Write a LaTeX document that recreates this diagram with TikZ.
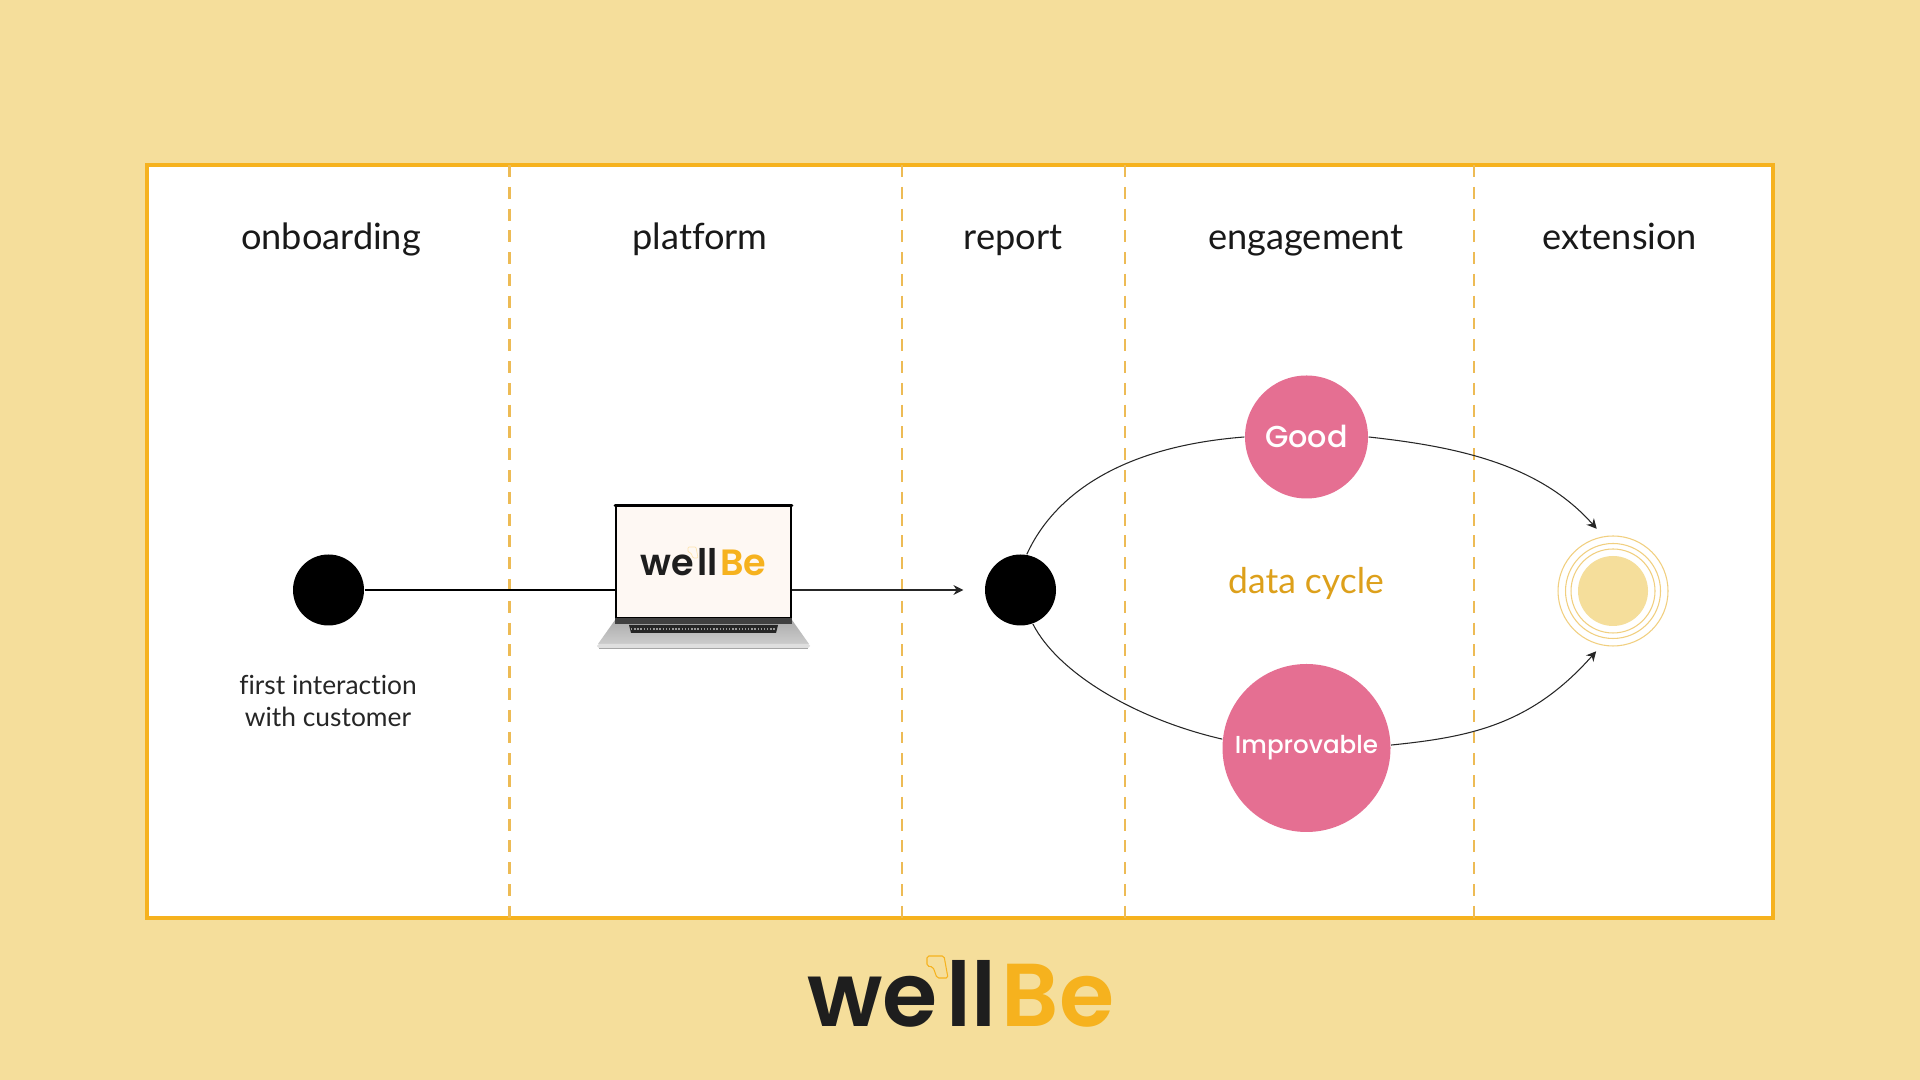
\documentclass[tikz,border=0pt]{standalone}
\usepackage{fontspec}
\setmainfont{Lato}[Ligatures=NoCommon]
\newfontfamily\logofont{Poppins SemiBold}
\newfontfamily\rosefont{Poppins Medium}
\usetikzlibrary{arrows.meta}
\definecolor{sandbg}{HTML}{F5DE9B}
\definecolor{framegold}{HTML}{F6B21E}
\definecolor{dashgold}{HTML}{EDBB55}
\definecolor{ringgold}{HTML}{F1CF7F}
\definecolor{rosefill}{HTML}{E56F92}
\definecolor{logoink}{HTML}{1E1E1E}
\definecolor{screenfill}{HTML}{FEF8F3}
\newcommand{\wellbeword}[1]{{\logofont\fontsize{#1}{#1}\selectfont\color{logoink}we\hspace{0.1em}ll\hspace{0.06em}\color{framegold}Be}}
\tikzset{
  stagetitle/.style={font=\fontsize{10.3}{12}\selectfont,text=black!90,anchor=base},
  stagedash/.style={dashgold,line width=0.6pt,dash pattern=on 3.4pt off 2.8pt},
  bigdot/.style={circle,fill=black,minimum size=0.71cm,inner sep=0pt},
  rosedot/.style={circle,fill=rosefill,text=white,inner sep=0pt},
  ringdot/.style={circle,draw=ringgold,line width=0.3pt,inner sep=0pt},
  flowline/.style={line width=0.3pt,black!85},
  flowtip/.style={-{Stealth[length=2.8pt,width=2.8pt]}}
}
\begin{document}
\begin{tikzpicture}
%background and frame
\fill[sandbg] (0,0) rectangle (19.2,10.8);
\draw[framegold,fill=white,line width=1.1pt] (1.47,1.62) rectangle (17.73,9.15);
%stage separators
\draw[stagedash] (5.095,9.15)--(5.095,1.62);
\draw[stagedash] (9.02,9.15)--(9.02,1.62);
\draw[stagedash] (11.25,9.15)--(11.25,1.62);
\draw[stagedash] (14.74,9.15)--(14.74,1.62);
%titles
\node[stagetitle] (onboarding) at (3.31,8.30){onboarding};
\node[stagetitle] (platform) at (7.00,8.30){platform};
\node[stagetitle] (report) at (10.13,8.30){report};
\node[stagetitle] (engagement) at (13.06,8.30){engagement};
\node[stagetitle] (extension) at (16.20,8.30){extension};
%laptop
\shade[top color=gray!65,bottom color=gray!40] (6.15,4.60)--(7.92,4.60)--(8.09,4.36)--(5.98,4.36)--cycle;
\fill[black!85] (6.29,4.55)--(7.78,4.55)--(7.76,4.47)--(6.31,4.47)--cycle;
\draw[white!60!black,line width=0.4pt,dash pattern=on 0.4pt off 0.5pt] (6.31,4.51)--(7.76,4.51);
\fill[gray!25,rounded corners=0.5pt] (5.97,4.36) rectangle (8.10,4.32);
\fill[gray!70] (5.99,4.32) rectangle (8.08,4.31);
\node[draw=black,fill=screenfill,line width=0.5pt,minimum width=1.75cm,minimum height=1.12cm,inner sep=0pt] (screen) at (7.035,5.18){\wellbeword{10.4}};
\draw[black,line width=0.9pt,line cap=round] (screen.north west)--(screen.north east);
\fill[black!75] ([yshift=0.01cm]screen.south west) rectangle ([yshift=-0.05cm]screen.south east);
\draw[framegold!35,line width=0.2pt,rounded corners=0.3pt] (6.88,5.33)--(6.96,5.33)--(6.98,5.22)--(6.93,5.22)--(6.91,5.27)--(6.88,5.28)--cycle;
%dots
\node[bigdot] (firstdot) at (3.285,4.90){};
\node[bigdot] (reportdot) at (10.205,4.90){};
\node[rosedot,minimum size=1.23cm,font=\rosefont\fontsize{8.6}{10}\selectfont] (good) at (13.065,6.43){\raisebox{0.5pt}{Good}};
\node[rosedot,minimum size=1.68cm,font=\rosefont\fontsize{7}{9}\selectfont] (improvable) at (13.065,3.32){Improvable};
%target rings
\node[ringdot,minimum size=1.10cm] (target) at (16.13,4.89){};
\node[ringdot,minimum size=0.95cm] (ringb) at (target){};
\node[ringdot,minimum size=0.84cm] (ringc) at (target){};
\node[circle,fill=sandbg,minimum size=0.70cm,inner sep=0pt] (targetcore) at (target){};
%texts
\node[font=\fontsize{7.5}{9}\selectfont,text=black!85,align=center] (firstnote) at (3.28,3.79){first interaction\\with customer};
\node[font=\fontsize{10.1}{12}\selectfont,text=framegold!90!black] (datacycle) at (13.06,4.97){data cycle};
%connectors
\draw[line width=0.4pt,black] (firstdot)--(firstdot-|screen.west);
\draw[flowline,flowtip,shorten >=0.21cm] (screen.east|-reportdot)--(reportdot);
\draw[flowline] (reportdot.80) .. controls (10.52,5.81) and (11.15,6.33) .. (good.west);
\draw[flowline,flowtip,shorten >=0.10cm] (good.east) .. controls (14.60,6.33) and (15.40,6.15) .. (target.100);
\draw[flowline] (reportdot.-70) .. controls (10.58,4.07) and (11.35,3.61) .. (improvable.174);
\draw[flowline,flowtip,shorten >=0.08cm] (improvable.2) .. controls (14.70,3.43) and (15.31,3.55) .. (target.258);
%logo
\node[anchor=base] (logo) at (9.61,0.53){\wellbeword{25.4}};
\draw[framegold,line width=0.3pt,rounded corners=0.5pt] (9.27,1.24)--(9.44,1.24)--(9.48,1.02)--(9.37,1.02)--(9.33,1.13)--(9.27,1.14)--cycle;
\end{tikzpicture}
\end{document}
